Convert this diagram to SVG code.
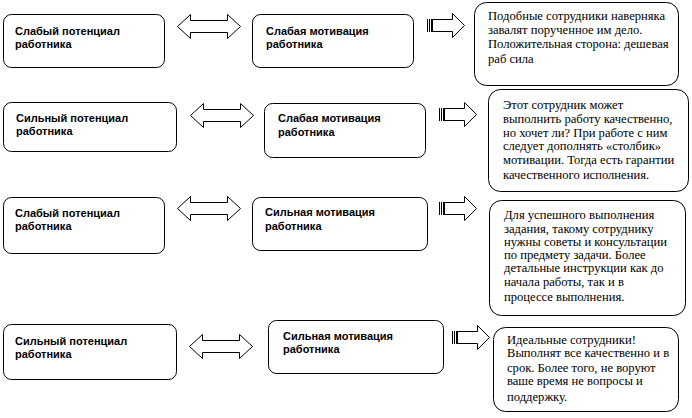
<svg xmlns="http://www.w3.org/2000/svg" xmlns:xlink="http://www.w3.org/1999/xlink" width="692" height="418" viewBox="0 0 692 418">
<style>
.box{fill:#fff;stroke:#000;stroke-width:1}
.lbl{font-family:"Liberation Sans",Arial,sans-serif;font-weight:bold;font-size:11px;fill:#000}
.txt{font-family:"Liberation Serif","Times New Roman",serif;font-size:12.6px;fill:#000}
.arr{fill:#fff;stroke:#000;stroke-width:1}
.stripe{fill:#000}
</style>
<defs>
<path id="dbl" class="arr" d="M0,12 L13,0 L13,6 L50,6 L50,0 L63,12 L50,24 L50,18 L13,18 L13,24 Z"/>
<g id="str">
<path class="arr" d="M4.5,6.5 L25.5,6.5 L25.5,0.5 L37.5,12.5 L25.5,24.5 L25.5,18.5 L4.5,18.5 Z"/>
<rect class="stripe" x="0" y="6" width="1" height="13"/>
<rect class="stripe" x="2" y="6" width="1" height="13"/>
<rect class="stripe" x="4" y="6" width="2" height="13"/>
</g>
</defs>
<rect width="692" height="418" fill="#fff"/>
<g id="connectors">
<use xlink:href="#dbl" x="177.5" y="14.5"/>
<use xlink:href="#dbl" x="190.5" y="103.5"/>
<use xlink:href="#dbl" x="177.5" y="196.5"/>
<use xlink:href="#dbl" x="189.5" y="334.5"/>
<use xlink:href="#str" x="427" y="13"/>
<use xlink:href="#str" x="439" y="102"/>
<use xlink:href="#str" x="439" y="196"/>
<use xlink:href="#str" x="452" y="325"/>
</g>
<g id="n1a"><rect class="box" x="3.5" y="14.5" width="161" height="53" rx="8"/>
<text class="lbl" x="15" y="35">Слабый потенциал</text><text class="lbl" x="15" y="48">работника</text></g>
<g id="n1b"><rect class="box" x="252.5" y="14.5" width="161" height="53" rx="8"/>
<text class="lbl" x="266" y="35">Слабая мотивация</text><text class="lbl" x="266" y="48">работника</text></g>
<g id="n1c"><rect class="box" x="474.5" y="2.5" width="204" height="83" rx="12"/>
<text class="txt" x="488" y="20">Подобные сотрудники наверняка</text>
<text class="txt" x="488" y="34">завалят порученное им дело.</text>
<text class="txt" x="488" y="48">Положительная сторона: дешевая</text>
<text class="txt" x="488" y="63">раб сила</text></g>
<g id="n2a"><rect class="box" x="3.5" y="102.5" width="173" height="49" rx="8"/>
<text class="lbl" x="16" y="122">Сильный потенциал</text><text class="lbl" x="16" y="135">работника</text></g>
<g id="n2b"><rect class="box" x="264.5" y="103.5" width="161" height="54" rx="8"/>
<text class="lbl" x="278" y="122">Слабая мотивация</text><text class="lbl" x="278" y="136">работника</text></g>
<g id="n2c"><rect class="box" x="488.5" y="89.5" width="200" height="102" rx="12"/>
<text class="txt" x="503" y="109">Этот сотрудник может</text>
<text class="txt" x="503" y="123">выполнить работу качественно,</text>
<text class="txt" x="503" y="137">но хочет ли? При работе с ним</text>
<text class="txt" x="503" y="150">следует дополнять «столбик»</text>
<text class="txt" x="503" y="164">мотивации. Тогда есть гарантии</text>
<text class="txt" x="503" y="179">качественного исполнения.</text></g>
<g id="n3a"><rect class="box" x="3.5" y="197.5" width="161" height="56" rx="8"/>
<text class="lbl" x="15" y="217">Слабый потенциал</text><text class="lbl" x="15" y="230">работника</text></g>
<g id="n3b"><rect class="box" x="252.5" y="197.5" width="175" height="53" rx="8"/>
<text class="lbl" x="265" y="216">Сильная мотивация</text><text class="lbl" x="265" y="230">работника</text></g>
<g id="n3c"><rect class="box" x="489.5" y="200.5" width="196" height="115" rx="12"/>
<text class="txt" x="504" y="219">Для успешного выполнения</text>
<text class="txt" x="504" y="233">задания, такому сотруднику</text>
<text class="txt" x="504" y="246">нужны советы и консультации</text>
<text class="txt" x="504" y="259">по предмету задачи. Более</text>
<text class="txt" x="504" y="272">детальные инструкции как до</text>
<text class="txt" x="504" y="286">начала работы, так и в</text>
<text class="txt" x="504" y="301">процессе выполнения.</text></g>
<g id="n4a"><rect class="box" x="3.5" y="324.5" width="173" height="55" rx="8"/>
<text class="lbl" x="15" y="345">Сильный потенциал</text><text class="lbl" x="15" y="358">работника</text></g>
<g id="n4b"><rect class="box" x="268.5" y="320.5" width="175" height="53" rx="8"/>
<text class="lbl" x="283" y="340">Сильная мотивация</text><text class="lbl" x="283" y="353">работника</text></g>
<g id="n4c"><rect class="box" x="493.5" y="327.5" width="185" height="84" rx="12"/>
<text class="txt" x="507" y="344">Идеальные сотрудники!</text>
<text class="txt" x="507" y="357">Выполнят все качественно и в</text>
<text class="txt" x="507" y="372">срок. Более того, не воруют</text>
<text class="txt" x="507" y="385">ваше время не вопросы и</text>
<text class="txt" x="507" y="401">поддержку.</text></g>
</svg>
